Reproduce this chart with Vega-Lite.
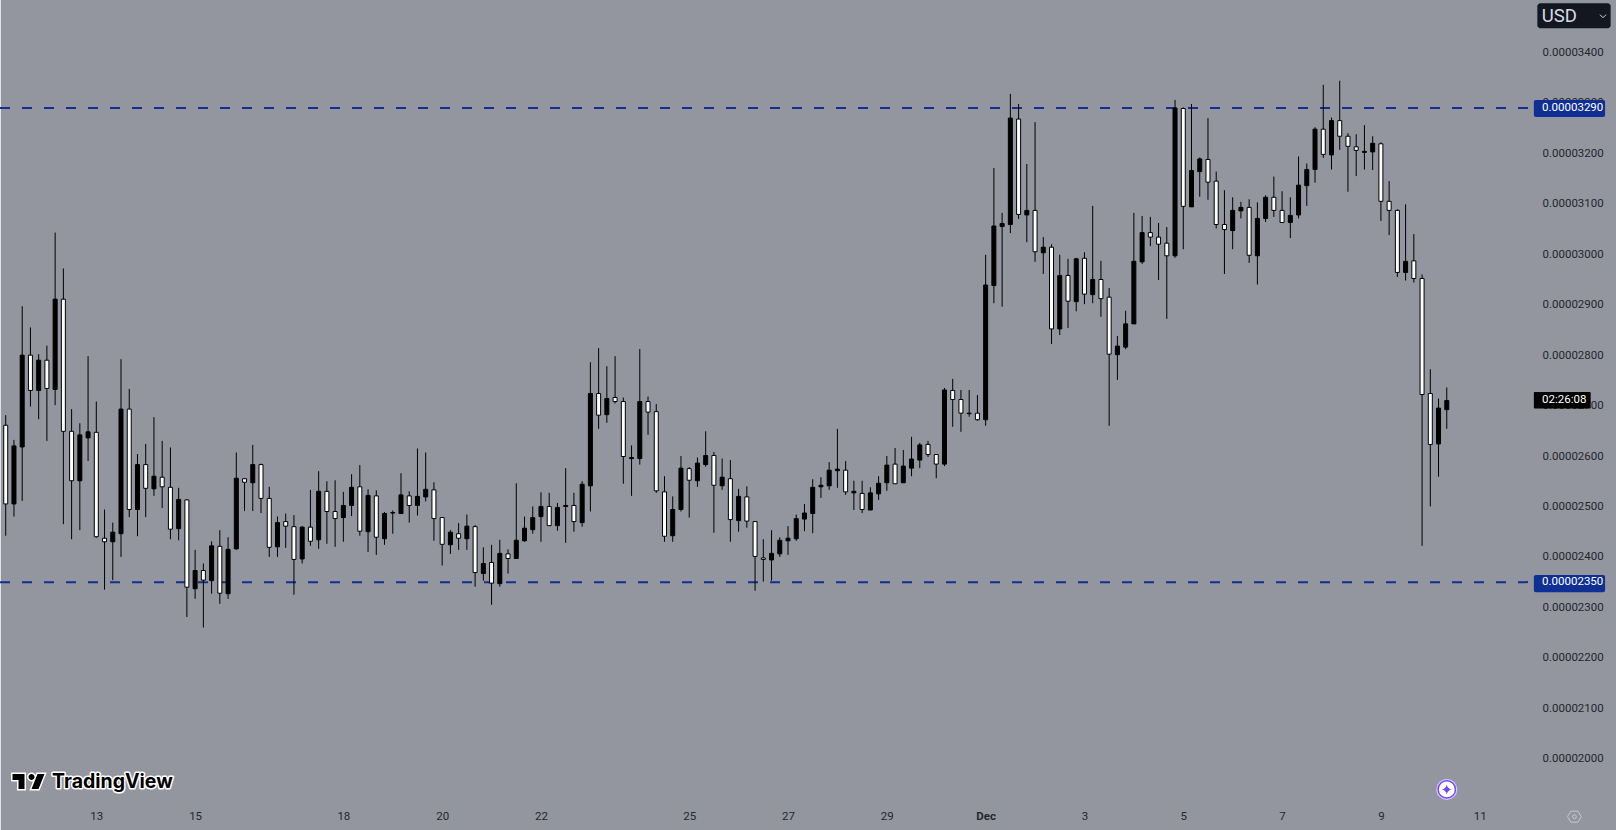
{
  "$schema": "https://vega.github.io/schema/vega-lite/v6.json",
  "width": 1616, "height": 830,
  "padding": 0,
  "autosize": {"type": "none"},
  "background": "#93969f",
  "config": {"view": {"stroke": null}},
  "datasets": {
    "candles": [
      {"t":"2024-11-11T04:00:00Z","o":0.00002661,"h":0.00002681,"l":0.00002442,"c":0.00002505},
      {"t":"2024-11-11T08:00:00Z","o":0.00002505,"h":0.00002632,"l":0.00002480,"c":0.00002620},
      {"t":"2024-11-11T12:00:00Z","o":0.00002618,"h":0.00002897,"l":0.00002511,"c":0.00002800},
      {"t":"2024-11-11T16:00:00Z","o":0.00002800,"h":0.00002855,"l":0.00002698,"c":0.00002730},
      {"t":"2024-11-11T20:00:00Z","o":0.00002730,"h":0.00002802,"l":0.00002673,"c":0.00002790},
      {"t":"2024-11-12T00:00:00Z","o":0.00002790,"h":0.00002819,"l":0.00002630,"c":0.00002734},
      {"t":"2024-11-12T04:00:00Z","o":0.00002732,"h":0.00003043,"l":0.00002701,"c":0.00002911},
      {"t":"2024-11-12T08:00:00Z","o":0.00002911,"h":0.00002972,"l":0.00002465,"c":0.00002649},
      {"t":"2024-11-12T12:00:00Z","o":0.00002649,"h":0.00002693,"l":0.00002435,"c":0.00002551},
      {"t":"2024-11-12T16:00:00Z","o":0.00002551,"h":0.00002665,"l":0.00002453,"c":0.00002642},
      {"t":"2024-11-12T20:00:00Z","o":0.00002636,"h":0.00002798,"l":0.00002590,"c":0.00002648},
      {"t":"2024-11-13T00:00:00Z","o":0.00002647,"h":0.00002708,"l":0.00002438,"c":0.00002440},
      {"t":"2024-11-13T04:00:00Z","o":0.00002437,"h":0.00002494,"l":0.00002335,"c":0.00002430},
      {"t":"2024-11-13T08:00:00Z","o":0.00002430,"h":0.00002468,"l":0.00002354,"c":0.00002449},
      {"t":"2024-11-13T12:00:00Z","o":0.00002446,"h":0.00002792,"l":0.00002400,"c":0.00002693},
      {"t":"2024-11-13T16:00:00Z","o":0.00002693,"h":0.00002733,"l":0.00002479,"c":0.00002494},
      {"t":"2024-11-13T20:00:00Z","o":0.00002494,"h":0.00002604,"l":0.00002441,"c":0.00002583},
      {"t":"2024-11-14T00:00:00Z","o":0.00002583,"h":0.00002624,"l":0.00002479,"c":0.00002536},
      {"t":"2024-11-14T04:00:00Z","o":0.00002535,"h":0.00002677,"l":0.00002521,"c":0.00002560},
      {"t":"2024-11-14T08:00:00Z","o":0.00002558,"h":0.00002630,"l":0.00002497,"c":0.00002539},
      {"t":"2024-11-14T12:00:00Z","o":0.00002538,"h":0.00002617,"l":0.00002435,"c":0.00002455},
      {"t":"2024-11-14T16:00:00Z","o":0.00002456,"h":0.00002537,"l":0.00002433,"c":0.00002514},
      {"t":"2024-11-14T20:00:00Z","o":0.00002513,"h":0.00002514,"l":0.00002281,"c":0.00002340},
      {"t":"2024-11-15T00:00:00Z","o":0.00002337,"h":0.00002414,"l":0.00002317,"c":0.00002373},
      {"t":"2024-11-15T04:00:00Z","o":0.00002373,"h":0.00002387,"l":0.00002260,"c":0.00002354},
      {"t":"2024-11-15T08:00:00Z","o":0.00002353,"h":0.00002431,"l":0.00002327,"c":0.00002422},
      {"t":"2024-11-15T12:00:00Z","o":0.00002421,"h":0.00002453,"l":0.00002307,"c":0.00002328},
      {"t":"2024-11-15T16:00:00Z","o":0.00002327,"h":0.00002439,"l":0.00002317,"c":0.00002415},
      {"t":"2024-11-15T20:00:00Z","o":0.00002416,"h":0.00002607,"l":0.00002414,"c":0.00002556},
      {"t":"2024-11-16T00:00:00Z","o":0.00002555,"h":0.00002556,"l":0.00002491,"c":0.00002548},
      {"t":"2024-11-16T04:00:00Z","o":0.00002547,"h":0.00002622,"l":0.00002491,"c":0.00002583},
      {"t":"2024-11-16T08:00:00Z","o":0.00002583,"h":0.00002585,"l":0.00002487,"c":0.00002516},
      {"t":"2024-11-16T12:00:00Z","o":0.00002516,"h":0.00002539,"l":0.00002400,"c":0.00002419},
      {"t":"2024-11-16T16:00:00Z","o":0.00002420,"h":0.00002480,"l":0.00002400,"c":0.00002468},
      {"t":"2024-11-16T20:00:00Z","o":0.00002470,"h":0.00002486,"l":0.00002418,"c":0.00002461},
      {"t":"2024-11-17T00:00:00Z","o":0.00002460,"h":0.00002483,"l":0.00002325,"c":0.00002395},
      {"t":"2024-11-17T04:00:00Z","o":0.00002396,"h":0.00002461,"l":0.00002387,"c":0.00002459},
      {"t":"2024-11-17T08:00:00Z","o":0.00002459,"h":0.00002533,"l":0.00002422,"c":0.00002431},
      {"t":"2024-11-17T12:00:00Z","o":0.00002434,"h":0.00002570,"l":0.00002416,"c":0.00002530},
      {"t":"2024-11-17T16:00:00Z","o":0.00002530,"h":0.00002550,"l":0.00002426,"c":0.00002490},
      {"t":"2024-11-17T20:00:00Z","o":0.00002490,"h":0.00002552,"l":0.00002420,"c":0.00002476},
      {"t":"2024-11-18T00:00:00Z","o":0.00002478,"h":0.00002529,"l":0.00002430,"c":0.00002502},
      {"t":"2024-11-18T04:00:00Z","o":0.00002502,"h":0.00002564,"l":0.00002481,"c":0.00002538},
      {"t":"2024-11-18T08:00:00Z","o":0.00002539,"h":0.00002582,"l":0.00002442,"c":0.00002451},
      {"t":"2024-11-18T12:00:00Z","o":0.00002450,"h":0.00002534,"l":0.00002410,"c":0.00002522},
      {"t":"2024-11-18T16:00:00Z","o":0.00002521,"h":0.00002532,"l":0.00002404,"c":0.00002439},
      {"t":"2024-11-18T20:00:00Z","o":0.00002436,"h":0.00002489,"l":0.00002424,"c":0.00002486},
      {"t":"2024-11-19T00:00:00Z","o":0.00002487,"h":0.00002492,"l":0.00002446,"c":0.00002488},
      {"t":"2024-11-19T04:00:00Z","o":0.00002486,"h":0.00002566,"l":0.00002485,"c":0.00002523},
      {"t":"2024-11-19T08:00:00Z","o":0.00002521,"h":0.00002530,"l":0.00002468,"c":0.00002502},
      {"t":"2024-11-19T12:00:00Z","o":0.00002502,"h":0.00002615,"l":0.00002482,"c":0.00002520},
      {"t":"2024-11-19T16:00:00Z","o":0.00002519,"h":0.00002607,"l":0.00002510,"c":0.00002534},
      {"t":"2024-11-19T20:00:00Z","o":0.00002533,"h":0.00002548,"l":0.00002432,"c":0.00002476},
      {"t":"2024-11-20T00:00:00Z","o":0.00002478,"h":0.00002478,"l":0.00002383,"c":0.00002425},
      {"t":"2024-11-20T04:00:00Z","o":0.00002424,"h":0.00002453,"l":0.00002406,"c":0.00002449},
      {"t":"2024-11-20T08:00:00Z","o":0.00002446,"h":0.00002467,"l":0.00002414,"c":0.00002437},
      {"t":"2024-11-20T12:00:00Z","o":0.00002436,"h":0.00002484,"l":0.00002414,"c":0.00002461},
      {"t":"2024-11-20T16:00:00Z","o":0.00002460,"h":0.00002463,"l":0.00002341,"c":0.00002369},
      {"t":"2024-11-20T20:00:00Z","o":0.00002367,"h":0.00002419,"l":0.00002353,"c":0.00002387},
      {"t":"2024-11-21T00:00:00Z","o":0.00002389,"h":0.00002424,"l":0.00002305,"c":0.00002348},
      {"t":"2024-11-21T04:00:00Z","o":0.00002347,"h":0.00002434,"l":0.00002341,"c":0.00002407},
      {"t":"2024-11-21T08:00:00Z","o":0.00002406,"h":0.00002415,"l":0.00002367,"c":0.00002397},
      {"t":"2024-11-21T12:00:00Z","o":0.00002397,"h":0.00002546,"l":0.00002396,"c":0.00002433},
      {"t":"2024-11-21T16:00:00Z","o":0.00002432,"h":0.00002480,"l":0.00002430,"c":0.00002457},
      {"t":"2024-11-21T20:00:00Z","o":0.00002454,"h":0.00002500,"l":0.00002446,"c":0.00002478},
      {"t":"2024-11-22T00:00:00Z","o":0.00002480,"h":0.00002528,"l":0.00002430,"c":0.00002500},
      {"t":"2024-11-22T04:00:00Z","o":0.00002500,"h":0.00002527,"l":0.00002462,"c":0.00002462},
      {"t":"2024-11-22T08:00:00Z","o":0.00002462,"h":0.00002507,"l":0.00002452,"c":0.00002498},
      {"t":"2024-11-22T12:00:00Z","o":0.00002500,"h":0.00002576,"l":0.00002428,"c":0.00002502},
      {"t":"2024-11-22T16:00:00Z","o":0.00002502,"h":0.00002527,"l":0.00002450,"c":0.00002470},
      {"t":"2024-11-22T20:00:00Z","o":0.00002468,"h":0.00002550,"l":0.00002460,"c":0.00002544},
      {"t":"2024-11-23T00:00:00Z","o":0.00002541,"h":0.00002786,"l":0.00002490,"c":0.00002724},
      {"t":"2024-11-23T04:00:00Z","o":0.00002724,"h":0.00002814,"l":0.00002654,"c":0.00002681},
      {"t":"2024-11-23T08:00:00Z","o":0.00002682,"h":0.00002778,"l":0.00002666,"c":0.00002714},
      {"t":"2024-11-23T12:00:00Z","o":0.00002716,"h":0.00002798,"l":0.00002704,"c":0.00002708},
      {"t":"2024-11-23T16:00:00Z","o":0.00002708,"h":0.00002716,"l":0.00002545,"c":0.00002599},
      {"t":"2024-11-23T20:00:00Z","o":0.00002595,"h":0.00002621,"l":0.00002521,"c":0.00002597},
      {"t":"2024-11-24T00:00:00Z","o":0.00002595,"h":0.00002812,"l":0.00002583,"c":0.00002708},
      {"t":"2024-11-24T04:00:00Z","o":0.00002708,"h":0.00002718,"l":0.00002642,"c":0.00002687},
      {"t":"2024-11-24T08:00:00Z","o":0.00002688,"h":0.00002703,"l":0.00002527,"c":0.00002531},
      {"t":"2024-11-24T12:00:00Z","o":0.00002529,"h":0.00002560,"l":0.00002430,"c":0.00002441},
      {"t":"2024-11-24T16:00:00Z","o":0.00002442,"h":0.00002520,"l":0.00002430,"c":0.00002494},
      {"t":"2024-11-24T20:00:00Z","o":0.00002494,"h":0.00002600,"l":0.00002490,"c":0.00002576},
      {"t":"2024-11-25T00:00:00Z","o":0.00002575,"h":0.00002578,"l":0.00002478,"c":0.00002552},
      {"t":"2024-11-25T04:00:00Z","o":0.00002551,"h":0.00002597,"l":0.00002539,"c":0.00002586},
      {"t":"2024-11-25T08:00:00Z","o":0.00002583,"h":0.00002649,"l":0.00002579,"c":0.00002601},
      {"t":"2024-11-25T12:00:00Z","o":0.00002601,"h":0.00002608,"l":0.00002448,"c":0.00002542},
      {"t":"2024-11-25T16:00:00Z","o":0.00002541,"h":0.00002595,"l":0.00002533,"c":0.00002558},
      {"t":"2024-11-25T20:00:00Z","o":0.00002555,"h":0.00002592,"l":0.00002430,"c":0.00002474},
      {"t":"2024-11-26T00:00:00Z","o":0.00002472,"h":0.00002535,"l":0.00002450,"c":0.00002520},
      {"t":"2024-11-26T04:00:00Z","o":0.00002519,"h":0.00002540,"l":0.00002458,"c":0.00002471},
      {"t":"2024-11-26T08:00:00Z","o":0.00002470,"h":0.00002471,"l":0.00002333,"c":0.00002401},
      {"t":"2024-11-26T12:00:00Z","o":0.00002398,"h":0.00002435,"l":0.00002351,"c":0.00002395},
      {"t":"2024-11-26T16:00:00Z","o":0.00002394,"h":0.00002453,"l":0.00002353,"c":0.00002407},
      {"t":"2024-11-26T20:00:00Z","o":0.00002406,"h":0.00002439,"l":0.00002400,"c":0.00002433},
      {"t":"2024-11-27T00:00:00Z","o":0.00002432,"h":0.00002461,"l":0.00002404,"c":0.00002437},
      {"t":"2024-11-27T04:00:00Z","o":0.00002436,"h":0.00002484,"l":0.00002432,"c":0.00002476},
      {"t":"2024-11-27T08:00:00Z","o":0.00002475,"h":0.00002505,"l":0.00002451,"c":0.00002487},
      {"t":"2024-11-27T12:00:00Z","o":0.00002486,"h":0.00002554,"l":0.00002447,"c":0.00002538},
      {"t":"2024-11-27T16:00:00Z","o":0.00002539,"h":0.00002558,"l":0.00002517,"c":0.00002542},
      {"t":"2024-11-27T20:00:00Z","o":0.00002541,"h":0.00002588,"l":0.00002533,"c":0.00002572},
      {"t":"2024-11-28T00:00:00Z","o":0.00002571,"h":0.00002654,"l":0.00002537,"c":0.00002574},
      {"t":"2024-11-28T04:00:00Z","o":0.00002572,"h":0.00002590,"l":0.00002523,"c":0.00002529},
      {"t":"2024-11-28T08:00:00Z","o":0.00002527,"h":0.00002551,"l":0.00002493,"c":0.00002530},
      {"t":"2024-11-28T12:00:00Z","o":0.00002526,"h":0.00002551,"l":0.00002487,"c":0.00002494},
      {"t":"2024-11-28T16:00:00Z","o":0.00002493,"h":0.00002538,"l":0.00002493,"c":0.00002527},
      {"t":"2024-11-28T20:00:00Z","o":0.00002525,"h":0.00002560,"l":0.00002513,"c":0.00002546},
      {"t":"2024-11-29T00:00:00Z","o":0.00002547,"h":0.00002600,"l":0.00002531,"c":0.00002582},
      {"t":"2024-11-29T04:00:00Z","o":0.00002584,"h":0.00002616,"l":0.00002545,"c":0.00002545},
      {"t":"2024-11-29T08:00:00Z","o":0.00002547,"h":0.00002612,"l":0.00002547,"c":0.00002580},
      {"t":"2024-11-29T12:00:00Z","o":0.00002576,"h":0.00002638,"l":0.00002560,"c":0.00002594},
      {"t":"2024-11-29T16:00:00Z","o":0.00002592,"h":0.00002626,"l":0.00002576,"c":0.00002622},
      {"t":"2024-11-29T20:00:00Z","o":0.00002623,"h":0.00002630,"l":0.00002598,"c":0.00002603},
      {"t":"2024-11-30T00:00:00Z","o":0.00002603,"h":0.00002603,"l":0.00002556,"c":0.00002584},
      {"t":"2024-11-30T04:00:00Z","o":0.00002584,"h":0.00002735,"l":0.00002580,"c":0.00002731},
      {"t":"2024-11-30T08:00:00Z","o":0.00002730,"h":0.00002753,"l":0.00002658,"c":0.00002712},
      {"t":"2024-11-30T12:00:00Z","o":0.00002712,"h":0.00002731,"l":0.00002648,"c":0.00002685},
      {"t":"2024-11-30T16:00:00Z","o":0.00002684,"h":0.00002731,"l":0.00002678,"c":0.00002685},
      {"t":"2024-11-30T20:00:00Z","o":0.00002685,"h":0.00002721,"l":0.00002670,"c":0.00002672},
      {"t":"2024-12-01T00:00:00Z","o":0.00002672,"h":0.00002999,"l":0.00002660,"c":0.00002939},
      {"t":"2024-12-01T04:00:00Z","o":0.00002938,"h":0.00003171,"l":0.00002903,"c":0.00003056},
      {"t":"2024-12-01T08:00:00Z","o":0.00003055,"h":0.00003082,"l":0.00002896,"c":0.00003061},
      {"t":"2024-12-01T12:00:00Z","o":0.00003059,"h":0.00003318,"l":0.00003042,"c":0.00003270},
      {"t":"2024-12-01T16:00:00Z","o":0.00003268,"h":0.00003298,"l":0.00003070,"c":0.00003079},
      {"t":"2024-12-01T20:00:00Z","o":0.00003078,"h":0.00003179,"l":0.00003024,"c":0.00003087},
      {"t":"2024-12-02T00:00:00Z","o":0.00003087,"h":0.00003262,"l":0.00002985,"c":0.00003005},
      {"t":"2024-12-02T04:00:00Z","o":0.00003003,"h":0.00003034,"l":0.00002961,"c":0.00003014},
      {"t":"2024-12-02T08:00:00Z","o":0.00003014,"h":0.00003020,"l":0.00002822,"c":0.00002852},
      {"t":"2024-12-02T12:00:00Z","o":0.00002852,"h":0.00002999,"l":0.00002840,"c":0.00002958},
      {"t":"2024-12-02T16:00:00Z","o":0.00002958,"h":0.00002991,"l":0.00002854,"c":0.00002907},
      {"t":"2024-12-02T20:00:00Z","o":0.00002906,"h":0.00002993,"l":0.00002887,"c":0.00002991},
      {"t":"2024-12-03T00:00:00Z","o":0.00002992,"h":0.00003004,"l":0.00002901,"c":0.00002921},
      {"t":"2024-12-03T04:00:00Z","o":0.00002920,"h":0.00003096,"l":0.00002903,"c":0.00002950},
      {"t":"2024-12-03T08:00:00Z","o":0.00002950,"h":0.00002987,"l":0.00002876,"c":0.00002912},
      {"t":"2024-12-03T12:00:00Z","o":0.00002915,"h":0.00002933,"l":0.00002660,"c":0.00002802},
      {"t":"2024-12-03T16:00:00Z","o":0.00002801,"h":0.00002838,"l":0.00002751,"c":0.00002818},
      {"t":"2024-12-03T20:00:00Z","o":0.00002816,"h":0.00002888,"l":0.00002812,"c":0.00002862},
      {"t":"2024-12-04T00:00:00Z","o":0.00002862,"h":0.00003082,"l":0.00002862,"c":0.00002986},
      {"t":"2024-12-04T04:00:00Z","o":0.00002985,"h":0.00003076,"l":0.00002981,"c":0.00003043},
      {"t":"2024-12-04T08:00:00Z","o":0.00003043,"h":0.00003074,"l":0.00003016,"c":0.00003034},
      {"t":"2024-12-04T12:00:00Z","o":0.00003034,"h":0.00003062,"l":0.00002949,"c":0.00003020},
      {"t":"2024-12-04T16:00:00Z","o":0.00003022,"h":0.00003054,"l":0.00002872,"c":0.00002997},
      {"t":"2024-12-04T20:00:00Z","o":0.00002997,"h":0.00003306,"l":0.00002993,"c":0.00003290},
      {"t":"2024-12-05T00:00:00Z","o":0.00003289,"h":0.00003291,"l":0.00003010,"c":0.00003095},
      {"t":"2024-12-05T04:00:00Z","o":0.00003094,"h":0.00003298,"l":0.00003094,"c":0.00003166},
      {"t":"2024-12-05T08:00:00Z","o":0.00003164,"h":0.00003192,"l":0.00003114,"c":0.00003189},
      {"t":"2024-12-05T12:00:00Z","o":0.00003188,"h":0.00003270,"l":0.00003108,"c":0.00003143},
      {"t":"2024-12-05T16:00:00Z","o":0.00003145,"h":0.00003164,"l":0.00003051,"c":0.00003059},
      {"t":"2024-12-05T20:00:00Z","o":0.00003059,"h":0.00003127,"l":0.00002961,"c":0.00003049},
      {"t":"2024-12-06T00:00:00Z","o":0.00003047,"h":0.00003113,"l":0.00003010,"c":0.00003087},
      {"t":"2024-12-06T04:00:00Z","o":0.00003086,"h":0.00003104,"l":0.00003071,"c":0.00003093},
      {"t":"2024-12-06T08:00:00Z","o":0.00003093,"h":0.00003109,"l":0.00002983,"c":0.00002998},
      {"t":"2024-12-06T12:00:00Z","o":0.00002997,"h":0.00003103,"l":0.00002940,"c":0.00003071},
      {"t":"2024-12-06T16:00:00Z","o":0.00003071,"h":0.00003117,"l":0.00003064,"c":0.00003113},
      {"t":"2024-12-06T20:00:00Z","o":0.00003113,"h":0.00003154,"l":0.00003074,"c":0.00003087},
      {"t":"2024-12-07T00:00:00Z","o":0.00003087,"h":0.00003125,"l":0.00003063,"c":0.00003063},
      {"t":"2024-12-07T04:00:00Z","o":0.00003063,"h":0.00003113,"l":0.00003032,"c":0.00003077},
      {"t":"2024-12-07T08:00:00Z","o":0.00003078,"h":0.00003194,"l":0.00003071,"c":0.00003137},
      {"t":"2024-12-07T12:00:00Z","o":0.00003136,"h":0.00003180,"l":0.00003096,"c":0.00003168},
      {"t":"2024-12-07T16:00:00Z","o":0.00003168,"h":0.00003252,"l":0.00003142,"c":0.00003248},
      {"t":"2024-12-07T20:00:00Z","o":0.00003248,"h":0.00003336,"l":0.00003191,"c":0.00003198},
      {"t":"2024-12-08T00:00:00Z","o":0.00003197,"h":0.00003271,"l":0.00003168,"c":0.00003265},
      {"t":"2024-12-08T04:00:00Z","o":0.00003265,"h":0.00003344,"l":0.00003207,"c":0.00003234},
      {"t":"2024-12-08T08:00:00Z","o":0.00003234,"h":0.00003240,"l":0.00003124,"c":0.00003214},
      {"t":"2024-12-08T12:00:00Z","o":0.00003213,"h":0.00003238,"l":0.00003155,"c":0.00003206},
      {"t":"2024-12-08T16:00:00Z","o":0.00003202,"h":0.00003256,"l":0.00003168,"c":0.00003204},
      {"t":"2024-12-08T20:00:00Z","o":0.00003203,"h":0.00003234,"l":0.00003167,"c":0.00003220},
      {"t":"2024-12-09T00:00:00Z","o":0.00003219,"h":0.00003222,"l":0.00003066,"c":0.00003105},
      {"t":"2024-12-09T04:00:00Z","o":0.00003105,"h":0.00003145,"l":0.00003038,"c":0.00003087},
      {"t":"2024-12-09T08:00:00Z","o":0.00003087,"h":0.00003089,"l":0.00002955,"c":0.00002964},
      {"t":"2024-12-09T12:00:00Z","o":0.00002964,"h":0.00003099,"l":0.00002948,"c":0.00002986},
      {"t":"2024-12-09T16:00:00Z","o":0.00002987,"h":0.00003040,"l":0.00002944,"c":0.00002952},
      {"t":"2024-12-09T20:00:00Z","o":0.00002952,"h":0.00002960,"l":0.00002422,"c":0.00002722},
      {"t":"2024-12-10T00:00:00Z","o":0.00002724,"h":0.00002772,"l":0.00002500,"c":0.00002623},
      {"t":"2024-12-10T04:00:00Z","o":0.00002624,"h":0.00002714,"l":0.00002559,"c":0.00002695},
      {"t":"2024-12-10T08:00:00Z","o":0.00002692,"h":0.00002736,"l":0.00002654,"c":0.00002710}
    ],
    "levels": [
      {"price":0.0000329,"top":0.00003306,"bottom":0.00003272,"label":"0.00003290"},
      {"price":0.0000235,"top":0.00002364,"bottom":0.0000233,"label":"0.00002350"}
    ]
  },
  "layer": [
    {
      "data": {"values": [{}]},
      "mark": {"type": "rule", "color": "#dfe2ea", "strokeWidth": 2},
      "encoding": {
        "x": {"datum": {"year":2024,"month":11,"date":11,"hours":1,"minutes":13,"utc":true}, "type": "temporal"}
      }
    },
    {
      "data": {"name": "levels"},
      "mark": {"type": "rule", "color": "#12308c", "strokeWidth": 2, "strokeDash": [10, 12]},
      "encoding": {
        "x": {"datum": {"year":2024,"month":11,"date":11,"hours":1,"minutes":13,"utc":true}, "type": "temporal"},
        "x2": {"datum": {"year":2024,"month":12,"date":12,"hours":0,"minutes":24,"utc":true}},
        "y": {"field": "price", "type": "quantitative"}
      }
    },
    {
      "data": {"name": "candles"},
      "mark": {"type": "rule", "color": "#000", "strokeWidth": 1},
      "encoding": {
        "x": {
          "field": "t", "type": "temporal",
          "scale": {
            "type": "utc", "nice": false, "padding": 0,
            "domain": [
              {"year":2024,"month":11,"date":11,"hours":1,"minutes":13,"utc":true},
              {"year":2024,"month":12,"date":13,"hours":18,"minutes":12,"utc":true}
            ]
          },
          "axis": {
            "orient": "bottom", "offset": -25, "title": null, "grid": false, "domain": false, "ticks": false,
            "labelPadding": 5, "labelFont": "Roboto", "labelFontSize": 11.5, "labelColor": "#24262e",
            "labelOverlap": false, "labelBound": false, "labelFlush": false,
            "values": [
              {"year":2024,"month":11,"date":13,"utc":true},
              {"year":2024,"month":11,"date":15,"utc":true},
              {"year":2024,"month":11,"date":18,"utc":true},
              {"year":2024,"month":11,"date":20,"utc":true},
              {"year":2024,"month":11,"date":22,"utc":true},
              {"year":2024,"month":11,"date":25,"utc":true},
              {"year":2024,"month":11,"date":27,"utc":true},
              {"year":2024,"month":11,"date":29,"utc":true},
              {"year":2024,"month":12,"date":1,"utc":true},
              {"year":2024,"month":12,"date":3,"utc":true},
              {"year":2024,"month":12,"date":5,"utc":true},
              {"year":2024,"month":12,"date":7,"utc":true},
              {"year":2024,"month":12,"date":9,"utc":true},
              {"year":2024,"month":12,"date":11,"utc":true}
            ],
            "labelExpr": "utcdate(datum.value) == 1 ? 'Dec' : utcdate(datum.value)",
            "labelFontWeight": {"condition": {"test": "utcdate(datum.value) == 1", "value": "bold"}, "value": "normal"}
          }
        },
        "y": {
          "field": "l", "type": "quantitative",
          "scale": {"domain": [0.000018586, 0.000035041], "nice": false, "zero": false},
          "axis": {
            "orient": "right", "offset": -74, "title": null, "grid": false, "domain": false, "ticks": false,
            "labelPadding": 0, "labelAlign": "left", "labelFont": "Roboto", "labelFontSize": 11.5, "labelColor": "#24262e",
            "labelOverlap": false, "labelBound": false, "labelFlush": false, "format": ".8f",
            "values": [0.00002, 0.000021, 0.000022, 0.000023, 0.000024, 0.000025, 0.000026, 0.000027, 0.000028, 0.000029, 0.00003, 0.000031, 0.000032, 0.000033, 0.000034]
          }
        },
        "y2": {"field": "h"}
      }
    },
    {
      "data": {"name": "candles"},
      "mark": {"type": "bar", "width": 4, "stroke": "#000", "strokeWidth": 1},
      "encoding": {
        "x": {"field": "t", "type": "temporal"},
        "y": {"field": "o", "type": "quantitative"},
        "y2": {"field": "c"},
        "fill": {"condition": {"test": "datum.c >= datum.o", "value": "#000"}, "value": "#fff"}
      }
    },
    {
      "data": {"name": "levels"},
      "mark": {"type": "rect", "color": "#0f2f93", "cornerRadius": 2},
      "encoding": {
        "x": {"datum": {"year":2024,"month":12,"date":12,"hours":2,"minutes":18,"utc":true}, "type": "temporal"},
        "x2": {"datum": {"year":2024,"month":12,"date":13,"hours":12,"minutes":54,"utc":true}},
        "y": {"field": "top", "type": "quantitative"},
        "y2": {"field": "bottom"}
      }
    },
    {
      "data": {"name": "levels"},
      "mark": {"type": "text", "align": "left", "baseline": "middle", "color": "#fff", "font": "Roboto", "fontSize": 11.5},
      "encoding": {
        "x": {"datum": {"year":2024,"month":12,"date":12,"hours":6,"minutes":18,"utc":true}, "type": "temporal"},
        "y": {"field": "price", "type": "quantitative"},
        "text": {"field": "label"}
      }
    },
    {
      "data": {"values": [{"top":0.00002727,"bottom":0.00002694,"mid":0.00002711,"label":"02:26:08"}]},
      "layer": [
        {
          "mark": {"type": "rect", "color": "#000", "cornerRadius": 1},
          "encoding": {
            "x": {"datum": {"year":2024,"month":12,"date":12,"hours":2,"minutes":18,"utc":true}, "type": "temporal"},
            "x2": {"datum": {"year":2024,"month":12,"date":13,"hours":5,"minutes":54,"utc":true}},
            "y": {"field": "top", "type": "quantitative"},
            "y2": {"field": "bottom"}
          }
        },
        {
          "mark": {"type": "text", "align": "left", "baseline": "middle", "color": "#fff", "font": "Roboto", "fontSize": 11.5},
          "encoding": {
            "x": {"datum": {"year":2024,"month":12,"date":12,"hours":6,"minutes":18,"utc":true}, "type": "temporal"},
            "y": {"field": "mid", "type": "quantitative"},
            "text": {"field": "label"}
          }
        }
      ]
    },
    {
      "data": {"values": [{"top":0.000034975,"bottom":0.00003448,"mid":0.00003472,"label":"USD"}]},
      "layer": [
        {
          "mark": {"type": "rect", "color": "#131722", "cornerRadius": 3},
          "encoding": {
            "x": {"datum": {"year":2024,"month":12,"date":12,"hours":4,"minutes":0,"utc":true}, "type": "temporal"},
            "x2": {"datum": {"year":2024,"month":12,"date":13,"hours":15,"minutes":36,"utc":true}},
            "y": {"field": "top", "type": "quantitative"},
            "y2": {"field": "bottom"}
          }
        },
        {
          "mark": {"type": "text", "align": "left", "baseline": "middle", "color": "#d8dbe3", "font": "Roboto", "fontSize": 18.5},
          "encoding": {
            "x": {"datum": {"year":2024,"month":12,"date":12,"hours":6,"minutes":6,"utc":true}, "type": "temporal"},
            "y": {"field": "mid", "type": "quantitative"},
            "text": {"field": "label"}
          }
        },
        {
          "mark": {"type": "point", "shape": "M-1 -0.5L0 0.5L1 -0.5", "size": 36, "filled": false, "stroke": "#d8dbe3", "strokeWidth": 1, "opacity": 1},
          "encoding": {
            "x": {"datum": {"year":2024,"month":12,"date":13,"hours":11,"minutes":54,"utc":true}, "type": "temporal"},
            "y": {"field": "mid", "type": "quantitative"}
          }
        }
      ]
    },
    {
      "data": {"values": [{"mid":0.00001955,"base":0.00001941,"label":"TradingView"}]},
      "layer": [
        {
          "mark": {"type": "point", "shape": "M-4 -7.5H-16V-1.5H-10V7.5H-4ZM10 7.5h-7l6 -15h7l-6 15ZM3 -1.5a3 3 0 1 0 0 -6a3 3 0 0 0 0 6Z", "size": 4, "filled": true, "fill": "#fff", "stroke": "#fff", "strokeWidth": 3, "opacity": 1},
          "encoding": {
            "x": {"datum": {"year":2024,"month":11,"date":11,"hours":15,"minutes":4,"utc":true}, "type": "temporal"},
            "y": {"field": "mid", "type": "quantitative"}
          }
        },
        {
          "mark": {"type": "point", "shape": "M-4 -7.5H-16V-1.5H-10V7.5H-4ZM10 7.5h-7l6 -15h7l-6 15ZM3 -1.5a3 3 0 1 0 0 -6a3 3 0 0 0 0 6Z", "size": 4, "filled": true, "fill": "#000", "stroke": null, "opacity": 1},
          "encoding": {
            "x": {"datum": {"year":2024,"month":11,"date":11,"hours":15,"minutes":4,"utc":true}, "type": "temporal"},
            "y": {"field": "mid", "type": "quantitative"}
          }
        },
        {
          "mark": {"type": "text", "align": "left", "baseline": "alphabetic", "color": "#fff", "stroke": "#fff", "strokeWidth": 3, "strokeJoin": "round", "font": "Inter", "fontWeight": 700, "fontSize": 19.5},
          "encoding": {
            "x": {"datum": {"year":2024,"month":11,"date":12,"hours":2,"minutes":30,"utc":true}, "type": "temporal"},
            "y": {"field": "base", "type": "quantitative"},
            "text": {"field": "label"}
          }
        },
        {
          "mark": {"type": "text", "align": "left", "baseline": "alphabetic", "color": "#000", "font": "Inter", "fontWeight": 700, "fontSize": 19.5},
          "encoding": {
            "x": {"datum": {"year":2024,"month":11,"date":12,"hours":2,"minutes":30,"utc":true}, "type": "temporal"},
            "y": {"field": "base", "type": "quantitative"},
            "text": {"field": "label"}
          }
        }
      ]
    },
    {
      "data": {"values": [{"mid":0.00001939}]},
      "encoding": {
        "x": {"datum": {"year":2024,"month":12,"date":10,"hours":8,"utc":true}, "type": "temporal"},
        "y": {"field": "mid", "type": "quantitative"}
      },
      "layer": [
        {"mark": {"type": "point", "shape": "circle", "size": 440, "filled": true, "fill": "#d9ccff", "stroke": null, "opacity": 1}},
        {"mark": {"type": "point", "shape": "circle", "size": 300, "filled": true, "fill": "#fff", "stroke": "#7448ff", "strokeWidth": 1.5, "opacity": 1}},
        {"mark": {"type": "point", "shape": "M0 -5Q0.8 -0.8 5 0Q0.8 0.8 0 5Q-0.8 0.8 -5 0Q-0.8 -0.8 0 -5Z", "size": 4, "filled": true, "fill": "#7448ff", "stroke": null, "opacity": 1}}
      ]
    },
    {
      "data": {"values": [{"mid":0.00001885}]},
      "encoding": {
        "x": {"datum": {"year":2024,"month":12,"date":12,"hours":22,"utc":true}, "type": "temporal"},
        "y": {"field": "mid", "type": "quantitative"}
      },
      "layer": [
        {"mark": {"type": "point", "shape": "M-7 0L-3.5 -5.5L3.5 -5.5L7 0L3.5 5.5L-3.5 5.5Z", "size": 4, "filled": false, "stroke": "#c4c7d0", "strokeWidth": 1, "opacity": 1}},
        {"mark": {"type": "point", "shape": "circle", "size": 14, "filled": false, "stroke": "#c4c7d0", "strokeWidth": 1, "opacity": 1}}
      ]
    }
  ]
}
